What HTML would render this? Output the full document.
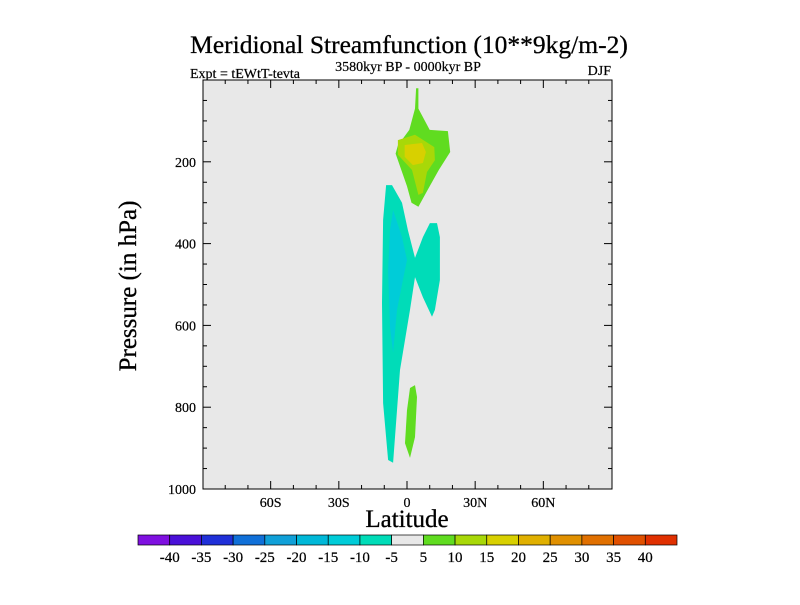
<!DOCTYPE html>
<html><head><meta charset="utf-8"><style>
body{margin:0;background:#fff;}
svg text{font-family:"Liberation Serif",serif;fill:#000;}
</style></head><body>
<svg id="c" width="800" height="600" viewBox="0 0 800 600" xmlns="http://www.w3.org/2000/svg">
<text x="409" y="53" font-size="25.5" text-anchor="middle" stroke="#000" stroke-width="0.3">Meridional Streamfunction (10**9kg/m-2)</text>
<text x="190" y="78" font-size="14" stroke="#000" stroke-width="0.2">Expt = tEWtT-tevta</text>
<text x="408" y="71" font-size="14" text-anchor="middle" stroke="#000" stroke-width="0.2">3580kyr BP - 0000kyr BP</text>
<text x="611" y="75" font-size="14" text-anchor="end" stroke="#000" stroke-width="0.2">DJF</text>
<rect x="203" y="80" width="409" height="409" fill="#e8e8e8"/>
<g id="fills"></g>
<g id="axes"></g>
<rect x="203" y="80" width="409" height="409" fill="none" stroke="#000" stroke-width="1"/>
<text transform="translate(136,286) rotate(-90)" font-size="25" text-anchor="middle" stroke="#000" stroke-width="0.3">Pressure (in hPa)</text>
<text x="407" y="527" font-size="25" text-anchor="middle" stroke="#000" stroke-width="0.3">Latitude</text>
<g id="cbar"></g>
</svg>
<script>
const latTicks=[-60,-30,0,30,60];
const latLabels=["60S","30S","0","30N","60N"];
const presTicks=[200,400,600,800,1000];
const levels=[-40,-35,-30,-25,-20,-15,-10,-5,5,10,15,20,25,30,35,40];
const levelColors=["#7f10e0","#4a10d8","#2030d8","#1070d8","#10a0d8","#00b8d8","#00ccd8","#00dcb8","#e8e8e8","#60dc20","#a8d808","#d8d000","#e0b000","#e09000","#e07000","#e05000","#e03000"];
const regionBands=[7,6,9,10,11,9];
const regionLat=[
[-9.2,-6.6,-2.2,0.4,3.5,7,10.1,13.2,14.5,14.5,12.3,11,7,3.5,1.3,-3.1,-5.3,-6.1,-8.3,-10.5,-11,-10.5],
[-6.1,-2.2,0,-1.8,-4.4,-6.1,-7.5,-8.3,-7.5],
[4,5,5,10,18,19,14,9,5,2,0,-5,-4,1,3.5],
[-4,3.5,12,12.3,8.8,7,5,2.2,-4],
[-1,6.6,8.3,7,2.6,-1],
[1.3,3.5,4.4,3.5,1.3,-0.9,0]];
const regionPres=[
[257,257,300,367,435,384,350,350,384,489,562,579,531,482,562,709,873,936,929,790,545,342],
[318,384,440,489,562,667,604,465,367],
[20,20,70,122,125,176,220,270,310,300,260,180,160,122,70],
[147,134,164,196,225,276,281,220,183],
[159,154,176,203,208,188],
[753,746,775,873,924,888,807]];
const NS="http://www.w3.org/2000/svg";
const xS=lat=>407+lat*(409/180);
const yS=p=>80+p*0.409;
const fills=document.getElementById('fills');
regionLat.forEach((la,i)=>{
  const pg=document.createElementNS(NS,'polygon');
  pg.setAttribute('points',la.map((v,j)=>xS(v).toFixed(1)+','+yS(regionPres[i][j]).toFixed(1)).join(' '));
  pg.setAttribute('fill',levelColors[regionBands[i]]);
  
  
  fills.appendChild(pg);
});
const ax=document.getElementById('axes');
function ln(x1,y1,x2,y2,name){const l=document.createElementNS(NS,'line');
l.setAttribute('x1',x1);l.setAttribute('y1',y1);l.setAttribute('x2',x2);l.setAttribute('y2',y2);l.setAttribute('stroke','#000');


ax.appendChild(l);}
function tx(x,y,s,anchor,name){const t=document.createElementNS(NS,'text');
t.setAttribute('x',x);t.setAttribute('y',y);t.setAttribute('font-size','14');t.setAttribute('text-anchor',anchor);t.setAttribute('stroke','#000');t.setAttribute('stroke-width','0.2');t.textContent=s;


ax.appendChild(t);}
for(let l=-80;l<=80;l+=10){const x=xS(l);const major=l%30===0;const len=major?8:4;
ln(x,489,x,489-len,'x-tick');ln(x,80,x,80+len,'x-tick-top');}
latTicks.forEach((l,i)=>tx(xS(l),507,latLabels[i],'middle','x-tick-label'));
for(let p=50;p<1000;p+=50){const y=yS(p);const major=p%200===0;const len=major?8:4;
ln(203,y,203+len,y,'y-tick');ln(612,y,612-len,y,'y-tick-right');}
presTicks.forEach(p=>tx(196,yS(p)+5,String(p),'end','y-tick-label'));
const cb=document.getElementById('cbar');
const bw=539/levelColors.length;
levelColors.forEach((c,i)=>{const r=document.createElementNS(NS,'rect');
r.setAttribute('x',138+i*bw);r.setAttribute('y',535);r.setAttribute('width',bw);r.setAttribute('height',10);
r.setAttribute('fill',c);r.setAttribute('stroke','#000');r.setAttribute('stroke-width','0.7');


cb.appendChild(r);});
levels.forEach((v,i)=>{const t=document.createElementNS(NS,'text');
t.setAttribute('x',138+(i+1)*bw);t.setAttribute('y',562);t.setAttribute('font-size','15');t.setAttribute('text-anchor','middle');t.setAttribute('stroke','#000');t.setAttribute('stroke-width','0.2');t.textContent=String(v);


cb.appendChild(t);});
</script>
</body></html>
